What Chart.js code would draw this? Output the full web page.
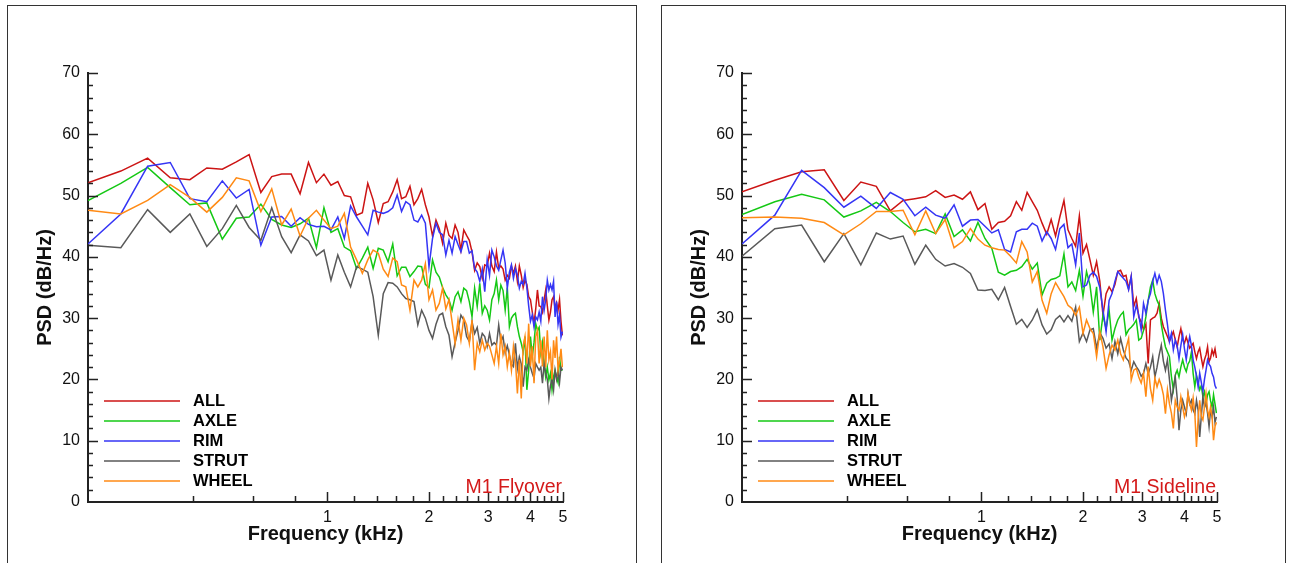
<!DOCTYPE html>
<html>
<head>
<meta charset="utf-8">
<title>Landing gear component PSD</title>
<script src="https://cdn.jsdelivr.net/npm/chart.js@4.4.1/dist/chart.umd.min.js"></script>
<style>
  html, body { margin: 0; padding: 0; background: #fff; }
  body { width: 1292px; height: 563px; position: relative; overflow: hidden; }
  .frame { position: absolute; top: 5px; height: 600px; border: 1px solid #333; }
  canvas { position: absolute; top: 0; }
</style>
</head>
<body>
<div class="frame" style="left:7px;width:628px"></div>
<div class="frame" style="left:661px;width:623px"></div>
<canvas id="flyover" width="638" height="563" style="left:0"></canvas>
<canvas id="sideline" width="638" height="563" style="left:654px"></canvas>
<script>
// narrowband bins, kHz
let freqs = [0.195, 0.244, 0.293, 0.342, 0.391, 0.439, 0.488, 0.537, 0.586, 0.635,
  0.684, 0.732, 0.781, 0.830, 0.879, 0.928, 0.977, 1.025, 1.074, 1.123,
  1.172, 1.221, 1.270, 1.318, 1.367, 1.416, 1.465, 1.514, 1.563, 1.611,
  1.660, 1.709, 1.758, 1.807, 1.855, 1.904, 1.953, 2.002, 2.051, 2.100,
  2.148, 2.197, 2.246, 2.295, 2.344, 2.393, 2.441, 2.490, 2.539, 2.588,
  2.637, 2.686, 2.734, 2.783, 2.832, 2.881, 2.930, 2.979, 3.027, 3.076,
  3.125, 3.174, 3.223, 3.271, 3.320, 3.369, 3.418, 3.467, 3.516, 3.564,
  3.613, 3.662, 3.711, 3.760, 3.809, 3.857, 3.906, 3.955, 4.004, 4.053,
  4.102, 4.150, 4.199, 4.248, 4.297, 4.346, 4.395, 4.443, 4.492, 4.541,
  4.590, 4.639, 4.688, 4.736, 4.785, 4.834, 4.883, 4.932, 4.980];

let components = ['ALL', 'AXLE', 'RIM', 'STRUT', 'WHEEL'];
let colors = ['#cc1414', '#14c814', '#3535f5', '#595959', '#ff8a14'];

let xTickLabels = [1, 2, 3, 4, 5];
let xMinorTicks = [0.4, 0.6, 0.8, 1.2, 1.4, 1.6, 1.8, 2.2, 2.4, 2.6, 2.8, 3.2, 3.4, 3.6, 3.8, 4.2, 4.4, 4.6, 4.8];

// PSD (dB/Hz), M1 flyover microphone
let flyoverAll = [52.1, 54.0, 56.1, 52.9, 52.6, 54.5, 54.3, 55.5, 56.7, 50.5,
  53.1, 53.5, 53.5, 50.3, 55.4, 52.1, 53.5, 51.7, 52.3, 50.0,
  49.8, 46.8, 47.2, 52.0, 49.3, 45.6, 48.7, 49.0, 50.6, 52.6,
  49.5, 49.8, 51.5, 48.5, 49.5, 51.0, 48.5, 46.5, 43.4, 46.0,
  44.6, 42.2, 45.5, 43.5, 43.0, 45.2, 44.0, 41.1, 44.4, 43.5,
  42.7, 40.8, 37.8, 39.0, 38.4, 36.5, 38.7, 38.5, 40.6, 38.5,
  37.6, 40.8, 38.1, 38.5, 38.0, 36.2, 37.0, 36.5, 38.5, 37.3,
  38.5, 36.0, 38.5, 37.0, 35.0, 36.2, 35.5, 33.5, 33.0, 31.0,
  29.1, 31.5, 34.6, 32.0, 31.9, 31.0, 33.0, 34.6, 32.0, 29.7,
  31.0, 33.0, 33.5, 31.5, 32.5, 31.3, 33.0, 29.5, 27.2];
let flyoverAxle = [49.2, 52.0, 54.6, 51.3, 48.5, 48.8, 42.9, 46.3, 46.5, 48.6,
  46.1, 45.2, 44.8, 45.4, 46.3, 41.5, 48.0, 44.0, 44.6, 41.6,
  41.0, 38.1, 39.8, 41.6, 38.1, 41.4, 41.1, 39.2, 42.1, 36.9,
  38.3, 38.3, 36.8, 37.6, 38.5, 38.4, 35.5, 35.0, 39.5, 37.5,
  36.7, 35.0, 33.8, 33.0, 31.3, 33.5, 34.3, 32.7, 34.9, 34.5,
  32.7, 30.2, 34.9, 31.9, 35.7, 30.8, 32.0, 31.3, 29.7, 33.0,
  34.0, 36.2, 33.0, 35.4, 34.5, 31.3, 35.0, 28.6, 30.0, 30.5,
  30.8, 28.6, 27.0, 25.9, 24.5, 27.0, 18.3, 21.5, 27.0, 23.7,
  26.0, 29.1, 28.0, 28.5, 24.3, 26.0, 22.5, 20.4, 22.0, 19.9,
  21.0, 18.3, 20.5, 21.5, 20.4, 19.5, 23.7, 21.5, 21.5];
let flyoverRim = [42.1, 47.0, 54.8, 55.4, 49.5, 49.0, 52.4, 49.6, 51.0, 41.9,
  46.5, 46.6, 45.0, 46.4, 45.3, 44.9, 45.0, 44.4, 46.5, 43.0,
  48.3, 46.5, 45.0, 43.6, 47.6, 47.3, 47.1, 47.4, 48.0, 50.1,
  47.4, 49.0, 48.5, 46.0, 45.7, 46.8, 45.5, 38.4, 43.0, 45.5,
  44.0, 43.6, 40.3, 42.7, 40.6, 43.3, 42.0, 40.8, 42.5, 42.5,
  40.6, 41.0, 38.1, 37.5, 36.0, 38.0, 34.3, 39.5, 37.0, 41.1,
  40.0, 38.5, 37.8, 39.5, 41.1, 39.0, 34.9, 37.5, 38.7, 36.5,
  38.1, 37.0, 34.9, 36.0, 35.5, 37.3, 35.0, 32.0, 29.5, 30.5,
  28.6, 30.2, 29.7, 31.0, 29.5, 33.5, 31.3, 33.0, 36.2, 34.6,
  35.5, 34.6, 36.0, 30.2, 32.7, 29.0, 30.5, 26.9, 27.8];
let flyoverStrut = [41.9, 41.5, 47.7, 44.0, 47.0, 41.7, 44.6, 48.4, 44.8, 42.7,
  48.0, 43.3, 40.7, 43.6, 42.6, 40.2, 41.1, 36.2, 40.3, 37.5,
  35.1, 38.4, 38.0, 37.5, 33.5, 27.2, 34.0, 35.8, 35.7, 35.1,
  34.0, 33.2, 33.0, 32.7, 28.9, 31.3, 30.0, 28.0, 26.7, 29.0,
  30.5, 30.8, 28.6, 27.2, 23.7, 26.0, 28.0, 30.5, 29.7, 27.0,
  26.2, 29.4, 27.5, 28.5, 25.9, 27.5, 27.0, 25.4, 27.5, 25.6,
  26.0, 25.6, 28.9, 26.2, 27.0, 24.3, 25.5, 24.0, 22.5, 22.1,
  25.9, 21.8, 23.7, 22.5, 18.8, 22.0, 21.5, 23.2, 22.0, 21.0,
  20.2, 22.6, 22.0, 21.5, 22.0, 19.4, 22.6, 21.0, 20.0, 16.9,
  19.0, 20.2, 18.3, 21.5, 20.0, 21.5, 19.5, 22.0, 21.5];
let flyoverWheel = [47.6, 47.0, 49.2, 51.8, 49.7, 47.3, 49.7, 52.9, 52.4, 47.4,
  51.1, 45.2, 47.8, 43.4, 46.3, 47.6, 46.0, 44.6, 45.0, 47.1,
  41.6, 39.5, 37.3, 39.5, 41.1, 40.6, 38.0, 36.8, 39.8, 39.2,
  35.4, 35.1, 31.3, 36.2, 35.1, 36.2, 38.9, 33.0, 34.6, 31.3,
  32.4, 34.9, 31.5, 33.0, 29.4, 25.9, 29.7, 26.4, 30.0, 28.9,
  25.9, 29.7, 21.5, 25.9, 24.5, 26.4, 24.8, 25.9, 25.4, 24.0,
  22.6, 25.4, 22.6, 27.5, 24.0, 25.4, 22.1, 24.3, 21.5, 25.4,
  23.0, 17.7, 23.2, 16.9, 25.4, 27.0, 22.6, 29.1, 22.1, 25.4,
  19.4, 27.0, 28.0, 22.6, 26.4, 22.1, 27.0, 22.0, 28.0, 23.2,
  24.5, 20.0, 26.4, 23.5, 27.0, 21.5, 23.0, 25.0, 22.0];

// PSD (dB/Hz), M1 sideline microphone
let sidelineAll = [50.6, 52.5, 53.9, 54.2, 49.2, 52.2, 51.5, 47.5, 49.2, 49.5,
  49.8, 50.8, 49.7, 50.1, 49.4, 50.6, 47.7, 48.7, 44.5, 45.6,
  45.8, 46.7, 49.0, 47.6, 50.5, 49.0, 47.6, 45.5, 43.7, 46.1,
  43.4, 46.5, 49.2, 44.4, 43.0, 41.7, 46.7, 40.6, 42.0, 39.5,
  37.0, 39.2, 36.0, 30.5, 34.0, 35.1, 34.3, 35.5, 37.6, 37.8,
  36.8, 37.0, 34.8, 36.8, 31.9, 33.2, 30.2, 29.4, 28.1, 29.0,
  22.6, 29.7, 30.0, 30.2, 30.8, 32.4, 30.0, 28.6, 27.8, 27.0,
  26.2, 27.0, 27.8, 26.5, 25.3, 27.0, 28.3, 26.5, 25.9, 26.9,
  26.0, 25.1, 25.5, 25.9, 24.5, 23.4, 24.5, 25.1, 23.5, 22.1,
  23.2, 24.0, 25.3, 22.9, 23.5, 24.8, 24.0, 25.0, 23.5];
let sidelineAxle = [46.9, 49.0, 50.2, 49.3, 46.5, 47.5, 48.9, 47.4, 45.6, 44.1,
  44.5, 43.8, 47.0, 43.3, 44.4, 42.6, 45.6, 43.0, 41.4, 37.5,
  37.0, 37.6, 37.8, 38.4, 39.6, 38.0, 39.0, 33.8, 35.7, 36.3,
  36.5, 36.9, 40.5, 35.1, 35.9, 34.5, 37.8, 33.6, 37.6, 35.4,
  31.0, 35.1, 26.4, 30.5, 28.3, 31.3, 26.4, 28.3, 29.7, 30.5,
  31.0, 27.3, 28.1, 28.5, 29.0, 29.7, 26.4, 26.7, 28.0, 30.2,
  32.9, 35.1, 36.2, 34.0, 32.9, 32.1, 29.0, 27.0, 25.3, 24.5,
  23.7, 20.5, 18.3, 20.7, 21.5, 20.4, 22.0, 23.2, 22.0, 21.3,
  22.5, 23.0, 24.5, 21.0, 18.8, 20.7, 19.5, 18.3, 19.0, 17.2,
  18.0, 16.1, 17.5, 18.0, 16.5, 15.5, 17.5, 16.0, 14.5];
let sidelineRim = [42.1, 46.8, 54.1, 51.3, 48.1, 49.9, 47.9, 50.5, 49.4, 46.7,
  48.1, 46.8, 46.3, 48.5, 45.0, 46.0, 46.1, 45.0, 43.9, 44.4,
  41.2, 40.8, 44.1, 44.5, 44.5, 45.5, 45.0, 42.6, 44.1, 43.0,
  41.2, 44.6, 45.3, 41.5, 42.1, 38.7, 43.9, 35.1, 35.4, 37.0,
  37.5, 36.8, 35.0, 31.3, 27.8, 32.9, 34.0, 36.0, 37.6, 37.0,
  36.5, 36.0, 34.6, 36.8, 30.2, 32.1, 30.5, 28.1, 32.4, 30.8,
  32.9, 34.0, 36.0, 37.3, 35.7, 37.0, 36.0, 34.0, 31.3, 29.0,
  26.2, 27.5, 24.8, 26.4, 25.5, 23.4, 25.5, 27.3, 25.0, 23.2,
  25.5, 27.0, 25.5, 23.2, 22.0, 20.5, 18.8, 21.0, 19.5, 18.0,
  20.0, 21.5, 23.2, 22.5, 22.1, 21.0, 20.4, 19.0, 18.5];
let sidelineStrut = [40.1, 44.6, 45.2, 39.2, 43.8, 38.7, 43.9, 42.9, 43.4, 38.8,
  41.9, 39.6, 38.5, 38.9, 38.3, 37.3, 34.6, 34.5, 34.7, 33.0,
  35.0, 31.9, 29.0, 29.8, 28.5, 29.7, 31.4, 28.9, 27.4, 28.1,
  29.8, 30.4, 29.4, 30.4, 29.5, 31.8, 26.2, 27.6, 26.2, 28.1,
  28.3, 25.1, 27.6, 26.7, 25.1, 25.8, 23.4, 26.2, 24.2, 26.7,
  24.8, 23.5, 23.0, 21.5, 22.9, 22.1, 21.5, 20.5, 21.0, 22.6,
  20.9, 22.0, 23.7, 20.4, 22.0, 24.0, 25.6, 23.0, 21.5, 23.2,
  20.0, 16.6, 18.5, 20.4, 17.0, 11.7, 15.0, 16.6, 15.5, 14.4,
  17.7, 16.0, 16.6, 15.0, 14.4, 16.6, 15.0, 10.6, 14.0, 17.2,
  15.5, 16.1, 14.5, 12.3, 15.0, 13.9, 15.5, 13.0, 13.9];
let sidelineWheel = [46.4, 46.5, 46.3, 45.6, 43.6, 45.4, 47.4, 47.4, 47.6, 43.6,
  47.5, 43.8, 46.1, 41.5, 42.5, 44.6, 42.9, 41.9, 41.5, 41.2,
  41.1, 40.1, 39.0, 42.5, 40.8, 35.9, 37.6, 32.9, 30.8, 34.0,
  35.8, 34.6, 33.5, 32.1, 31.6, 30.5, 31.8, 27.5, 29.7, 28.3,
  27.5, 23.7, 27.8, 25.3, 21.8, 24.0, 25.6, 24.8, 26.4, 24.2,
  23.2, 25.1, 26.7, 19.9, 21.5, 21.8, 20.4, 19.4, 21.0, 17.2,
  22.1, 18.5, 16.6, 20.2, 18.8, 20.0, 19.0, 17.5, 14.4, 18.3,
  16.0, 14.5, 12.0, 16.6, 15.5, 15.0, 17.2, 15.5, 13.9, 15.0,
  17.7, 16.0, 15.0, 17.0, 14.5, 9.0, 13.5, 16.6, 14.0, 13.4,
  15.5, 17.7, 15.0, 13.9, 15.5, 14.0, 10.1, 12.3, 13.0];

Chart.defaults.font.family = '"Liberation Sans", Arial, sans-serif';
Chart.defaults.color = '#111';

// inward tick marks, in-plot legend and the microphone caption
const decorations = {
  id: 'decorations',
  afterDatasetsDraw(chart, args, opts) {
    const { ctx, chartArea: area, scales: { x, y } } = chart;
    ctx.save();
    ctx.strokeStyle = '#222';
    ctx.lineWidth = 1.5;
    ctx.beginPath();
    for (let v = 2; v <= 70; v += 2) {
      const py = Math.round(y.getPixelForValue(v)) + 0.5;
      const len = v % 10 === 0 ? 10 : 5;
      ctx.moveTo(area.left, py);
      ctx.lineTo(area.left + len, py);
    }
    xTickLabels.concat(xMinorTicks).forEach(v => {
      const px = Math.round(x.getPixelForValue(v)) + 0.5;
      const len = xTickLabels.includes(v) ? 10 : 6;
      ctx.moveTo(px, area.bottom);
      ctx.lineTo(px, area.bottom - len);
    });
    ctx.stroke();

    ctx.font = 'bold 16.5px "Liberation Sans", Arial, sans-serif';
    ctx.textBaseline = 'middle';
    chart.data.datasets.forEach((ds, i) => {
      const ly = area.bottom - 101 + 20 * i;
      ctx.strokeStyle = ds.borderColor;
      ctx.lineWidth = 1.5;
      ctx.beginPath();
      ctx.moveTo(area.left + 16, ly);
      ctx.lineTo(area.left + 92, ly);
      ctx.stroke();
      ctx.fillStyle = '#000';
      ctx.fillText(ds.label, area.left + 105, ly);
    });

    ctx.font = '19.5px "Liberation Sans", Arial, sans-serif';
    ctx.fillStyle = '#d41a1a';
    ctx.textAlign = 'right';
    ctx.textBaseline = 'alphabetic';
    ctx.fillText(opts.caption, area.right - 1, area.bottom - 9);
    ctx.restore();
  }
};

function makeChart(id, series, caption) {
  return new Chart(document.getElementById(id), {
    type: 'line',
    data: {
      datasets: series.map((vals, i) => ({
        label: components[i],
        data: freqs.map((f, j) => ({ x: f, y: vals[j] })),
        borderColor: colors[i],
        borderWidth: 1.5,
        pointRadius: 0,
        tension: 0,
        order: series.length - i
      }))
    },
    options: {
      responsive: false,
      animation: false,
      devicePixelRatio: 1,
      layout: { padding: { top: 73, right: 75, left: 0, bottom: 0 } },
      plugins: {
        legend: { display: false },
        tooltip: { enabled: false },
        decorations: { caption: caption }
      },
      scales: {
        x: {
          type: 'logarithmic',
          min: 0.195,
          max: 5,
          afterBuildTicks: s => { s.ticks = xTickLabels.map(v => ({ value: v })); },
          afterFit: s => { s.height = 61; },
          ticks: {
            autoSkip: false,
            maxRotation: 0,
            padding: 6,
            font: { size: 16 },
            callback: v => String(v)
          },
          grid: { display: false, drawTicks: false },
          border: { display: true, color: '#222', width: 2 },
          title: {
            display: true,
            text: 'Frequency (kHz)',
            font: { size: 20, weight: 'bold' },
            padding: { top: 0, bottom: 17 }
          }
        },
        y: {
          min: 0,
          max: 70,
          afterFit: s => { s.width = 88; },
          ticks: { stepSize: 10, padding: 8, font: { size: 16 } },
          grid: { display: false, drawTicks: false },
          border: { display: true, color: '#222', width: 2 },
          title: {
            display: true,
            text: 'PSD (dB/Hz)',
            font: { size: 20, weight: 'bold' },
            padding: { top: 33, bottom: 0 }
          }
        }
      }
    },
    plugins: [decorations]
  });
}

makeChart('flyover', [flyoverAll, flyoverAxle, flyoverRim, flyoverStrut, flyoverWheel], 'M1 Flyover');
makeChart('sideline', [sidelineAll, sidelineAxle, sidelineRim, sidelineStrut, sidelineWheel], 'M1 Sideline');
</script>
</body>
</html>
